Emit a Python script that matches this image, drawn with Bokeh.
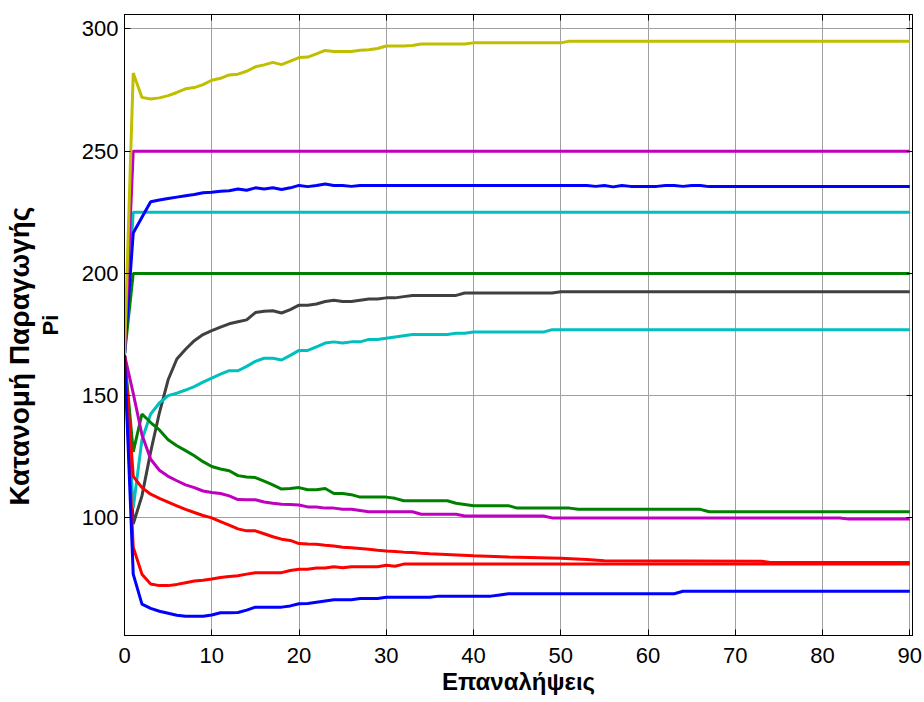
from bokeh.plotting import figure
from bokeh.models import FixedTicker, Range1d, LinearAxis
from bokeh.embed import file_html
from bokeh.resources import INLINE

FONT = "Liberation Sans"

x_ticks = [0, 10, 20, 30, 40, 50, 60, 70, 80, 90]
y_ticks = [100, 150, 200, 250, 300]
x_label = "Επαναλήψεις"
y_label_1 = "Κατανομή Παραγωγής"
y_label_2 = "Pi"

# --- series (iteration, production) ---
yellow_x = [0, 1, 2, 3, 4, 5, 6, 7, 8, 9, 10, 11, 12, 13, 14, 15, 16, 17, 18, 19, 20, 21, 22, 23, 24, 26,
            27, 28, 29, 30, 32, 33, 34, 39, 40, 50, 51, 90]
yellow_y = [166.7, 282, 272, 271.3, 271.8, 272.7, 274, 275.5, 276, 277.2, 279, 279.8, 281.2, 281.5, 282.7,
            284.5, 285.3, 286.3, 285.4, 286.8, 288.3, 288.5, 289.8, 291.2, 290.8, 290.8, 291.3, 291.5, 292,
            293, 293, 293.2, 293.8, 293.8, 294.3, 294.3, 295, 295]

magenta_top_x = [0, 1, 90]
magenta_top_y = [166.7, 250, 250]

blue_top_x = [0, 1, 2, 3, 4, 5, 6, 7, 8, 9, 10, 11, 12, 13, 14, 15, 16, 17, 18, 19, 20, 21, 22, 23, 24, 25,
              26, 27, 53, 54, 55, 56, 57, 58, 60, 61, 62, 63, 64, 65, 66, 67, 90]
blue_top_y = [166.7, 216.5, 223, 229.3, 230, 230.6, 231.2, 231.8, 232.3, 233, 233.2, 233.6, 233.8, 234.5,
              234, 235, 234.5, 235, 234.3, 235, 236, 235.5, 236, 236.6, 236, 236, 235.6, 236, 236, 235.6,
              236, 235.4, 236, 235.6, 235.6, 235.6, 236, 236, 235.6, 236, 236, 235.5, 235.5]

cyan_top_x = [0, 1, 90]
cyan_top_y = [166.7, 225, 225]

green_top_x = [0, 1, 90]
green_top_y = [166.7, 200, 200]

gray_x = [0, 1, 2, 3, 4, 5, 6, 7, 8, 9, 10, 11, 12, 13, 14, 15, 16, 17, 18, 19, 20, 21, 22, 23, 24, 25, 26,
          27, 28, 29, 30, 31, 32, 33, 38, 39, 49, 50, 90]
gray_y = [166.7, 97.5, 109, 127, 143, 156.5, 165, 169, 172.5, 175, 176.6, 178, 179.4, 180.2, 181, 184,
          184.5, 184.7, 183.8, 185.2, 187, 187, 187.5, 188.5, 189, 188.5, 188.5, 189, 189.5, 189.5, 190,
          190, 190.5, 191, 191, 192, 192, 192.5, 192.5]

cyan_low_x = [0, 1, 2, 3, 4, 5, 6, 7, 8, 9, 10, 11, 12, 13, 14, 15, 16, 17, 18, 19, 20, 21, 22, 23, 24,
              25, 26, 27, 28, 29, 30, 31, 32, 33, 37, 38, 39, 40, 48, 49, 90]
cyan_low_y = [166.7, 104, 132, 142.5, 147, 150, 151, 152.3, 153.7, 155.5, 157.2, 158.8, 160.2, 160.2, 162,
              164, 165.3, 165.3, 164.6, 166.5, 168.5, 168.5, 170, 171.5, 172, 171.5, 172, 172, 173, 173,
              173.5, 174, 174.5, 175, 175, 175.5, 175.5, 176, 176, 177, 177]

green_low_x = [0, 1, 2, 3, 4, 5, 6, 7, 8, 9, 10, 11, 12, 13, 14, 15, 16, 17, 18, 19, 20, 21, 22, 23, 24,
               25, 26, 27, 28, 29, 30, 31, 32, 37, 38, 39, 40, 44, 45, 51, 52, 66, 67, 90]
green_low_y = [166.7, 127, 142.5, 139, 136, 132, 129.5, 127.5, 125.4, 123, 121, 120, 119.3, 117.3, 116.7,
               116.5, 115, 113.5, 111.8, 112, 112.4, 111.5, 111.5, 112, 110, 110, 109.5, 108.5, 108.5,
               108.5, 108.5, 108, 107, 107, 106, 105.5, 105, 105, 104, 104, 103.5, 103.5, 102.5, 102.5]

magenta_low_x = [0, 1, 2, 3, 4, 5, 6, 7, 8, 9, 10, 11, 12, 13, 14, 15, 16, 17, 18, 19, 20, 21, 22, 23,
                 24, 25, 26, 27, 28, 33, 34, 38, 39, 48, 49, 82, 83, 90]
magenta_low_y = [166.7, 151, 134, 124, 119.5, 117, 115.2, 113.5, 112.4, 111, 110.4, 110, 109, 107.5,
                 107.4, 107.4, 106.5, 106, 105.6, 105.5, 105.3, 104.5, 104.5, 104, 104, 103.5, 103.5, 103,
                 102.5, 102.5, 101.5, 101.5, 100.8, 100.8, 100, 100, 99.5, 99.5]

red_up_x = [0, 1, 2, 3, 4, 5, 6, 7, 8, 9, 10, 11, 12, 13, 14, 15, 16, 17, 18, 19, 20, 21, 22, 23, 24, 25,
            26, 27, 28, 29, 30, 31, 32, 33, 34, 35, 40, 44, 50, 53, 55, 73, 74, 90]
red_up_y = [166.7, 117, 112.4, 109.7, 108, 106.5, 104.9, 103.5, 102.2, 101, 100, 98.5, 97, 95.5, 94.7,
            94.7, 93.5, 92.3, 91.3, 90.8, 89.5, 89.3, 89.2, 88.8, 88.5, 88, 87.8, 87.5, 87.2, 86.8, 86.5,
            86.3, 86, 85.8, 85.5, 85.3, 84.5, 84, 83.5, 83, 82.5, 82.3, 81.8, 81.8]

red_low_x = [0, 1, 2, 3, 4, 5, 6, 7, 8, 9, 10, 11, 12, 13, 14, 15, 16, 17, 18, 19, 20, 21, 22, 23, 24, 25,
             26, 27, 28, 29, 30, 31, 32, 90]
red_low_y = [166.7, 88, 77, 73, 72.3, 72.3, 72.8, 73.5, 74.2, 74.5, 75, 75.6, 76, 76.3, 77, 77.6, 77.6,
             77.6, 77.6, 78.5, 79, 79, 79.5, 79.5, 80, 79.6, 80, 80, 80, 80, 80.6, 80.2, 81.1, 81.1]

blue_low_x = [0, 1, 2, 3, 4, 5, 6, 7, 8, 9, 10, 11, 12, 13, 14, 15, 16, 17, 18, 19, 20, 21, 22, 23, 24,
              25, 26, 27, 28, 29, 30, 35, 36, 42, 43, 44, 63, 64, 90]
blue_low_y = [166.7, 77, 64.7, 63, 61.8, 61, 60.2, 59.8, 59.8, 59.8, 60.3, 61.2, 61.2, 61.3, 62.3, 63.5,
              63.5, 63.5, 63.5, 64, 64.9, 65, 65.5, 66, 66.5, 66.5, 66.5, 67, 67, 67, 67.5, 67.5, 68, 68,
              68.5, 69, 69, 70, 70]

series = [
    (gray_x, gray_y, "#404040"),
    (cyan_low_x, cyan_low_y, "#00BFBF"),
    (green_low_x, green_low_y, "#008000"),
    (magenta_low_x, magenta_low_y, "#BF00BF"),
    (red_up_x, red_up_y, "#FF0000"),
    (red_low_x, red_low_y, "#FF0000"),
    (blue_low_x, blue_low_y, "#0000FF"),
    (green_top_x, green_top_y, "#008000"),
    (cyan_top_x, cyan_top_y, "#00BFBF"),
    (blue_top_x, blue_top_y, "#0000FF"),
    (magenta_top_x, magenta_top_y, "#BF00BF"),
    (yellow_x, yellow_y, "#BFBF00"),
]

p = figure(width=924, height=702, output_backend="svg", toolbar_location=None,
           x_range=Range1d(0, 90.31), y_range=Range1d(51.9, 305.9),
           min_border_left=122, min_border_right=12, min_border_top=14, min_border_bottom=67)

for xs, ys, c in series:
    p.line(xs, ys, line_color=c, line_width=3)

p.background_fill_color = "white"
p.border_fill_color = "white"
p.outline_line_color = "black"
p.outline_line_width = 1
p.outline_line_alpha = 1

p.xaxis.ticker = FixedTicker(ticks=x_ticks)
p.yaxis.ticker = FixedTicker(ticks=y_ticks)
for ax in (p.xaxis, p.yaxis):
    ax.major_tick_in = 6
    ax.major_tick_out = 0
    ax.minor_tick_line_color = None
    ax.axis_line_color = "black"
    ax.major_tick_line_color = "black"
    ax.major_label_text_font = FONT
    ax.major_label_text_font_size = "22px"
    ax.major_label_text_color = "black"
    ax.axis_label_text_font = FONT
    ax.axis_label_text_font_style = "bold"
    ax.axis_label_text_color = "black"

p.xaxis.axis_label = x_label
p.xaxis.axis_label_text_font_size = "24px"
p.xaxis.major_label_standoff = 12
p.xaxis.axis_label_standoff = 2

p.yaxis.axis_label = y_label_2
p.yaxis.axis_label_text_font_size = "22px"
p.yaxis.major_label_standoff = 6
p.yaxis.axis_label_standoff = 16

# outer line of the two-line y label (padded so it sits lower, as in the original)
outer = LinearAxis(ticker=FixedTicker(ticks=[]), axis_label=y_label_1 + "\u00a0" * 8,
                   axis_line_color=None, major_tick_line_color=None, minor_tick_line_color=None,
                   major_label_text_color=None, major_tick_in=0, major_tick_out=0,
                   major_label_standoff=0, axis_label_standoff=0,
                   axis_label_text_font=FONT, axis_label_text_font_size="28px",
                   axis_label_text_font_style="bold", axis_label_text_color="black")
p.add_layout(outer, "left")

# tick marks on the top and right edges (no labels there)
top = LinearAxis(ticker=FixedTicker(ticks=x_ticks), major_label_text_color=None,
                 major_label_text_font_size="1px",
                 major_tick_in=6, major_tick_out=0, minor_tick_line_color=None,
                 major_label_standoff=0, axis_line_color="black", major_tick_line_color="black")
right = LinearAxis(ticker=FixedTicker(ticks=y_ticks), major_label_text_color=None,
                   major_label_text_font_size="1px",
                   major_tick_in=6, major_tick_out=0, minor_tick_line_color=None,
                   major_label_standoff=0, axis_line_color="black", major_tick_line_color="black")
p.add_layout(top, "above")
p.add_layout(right, "right")

p.xgrid.grid_line_color = "#a0a0a0"
p.ygrid.grid_line_color = "#a0a0a0"
p.xgrid.grid_line_width = 1
p.ygrid.grid_line_width = 1

open("out.html", "w").write(file_html(p, INLINE))
